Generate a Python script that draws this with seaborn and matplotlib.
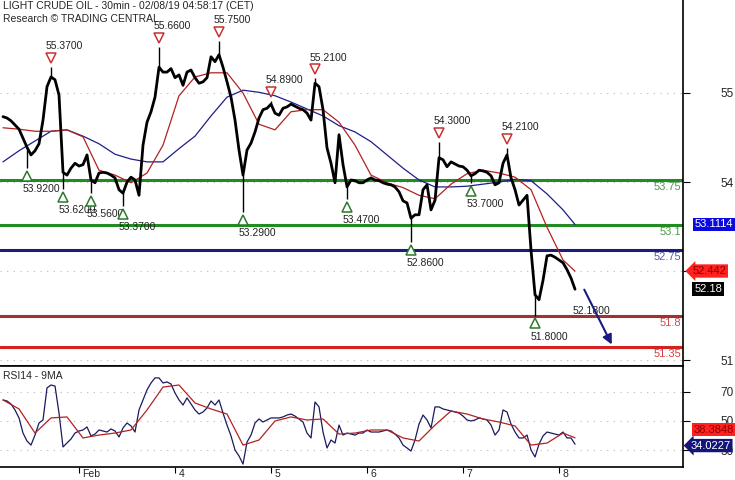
import numpy as np
import pandas as pd
import matplotlib
matplotlib.use("Agg")
import matplotlib.pyplot as plt
from matplotlib.transforms import offset_copy
import seaborn as sns

# 30min closes, read every 2 bars
close = [54.66, 54.64, 54.60, 54.54, 54.48, 54.35, 54.22, 54.11, 54.17, 54.27,
         54.61, 55.09, 55.23, 55.19, 54.97, 53.86, 53.82, 53.92, 53.99, 53.95,
         53.97, 54.11, 53.75, 53.71, 53.85, 53.86, 53.85, 53.82, 53.78, 53.61,
         53.56, 53.72, 53.79, 53.75, 53.53, 54.25, 54.58, 54.73, 54.94, 55.37,
         55.30, 55.30, 55.35, 55.22, 55.26, 55.11, 55.30, 55.33, 55.22, 55.14,
         55.16, 55.22, 55.52, 55.45, 55.55, 55.37, 55.16, 54.94, 54.61, 54.18,
         53.82, 54.18, 54.28, 54.44, 54.64, 54.76, 54.78, 54.84, 54.71, 54.68,
         54.78, 54.80, 54.84, 54.81, 54.78, 54.76, 54.71, 54.61, 55.14, 55.09,
         54.76, 54.21, 53.99, 53.71, 54.40, 53.97, 53.65, 53.75, 53.74, 53.71,
         53.71, 53.75, 53.78, 53.75, 53.74, 53.71, 53.69, 53.68, 53.65, 53.58,
         53.45, 53.42, 53.20, 53.25, 53.25, 53.61, 53.68, 53.32, 53.46, 54.07,
         54.04, 53.94, 54.01, 53.98, 53.95, 53.94, 53.89, 53.81, 53.84, 53.89,
         53.88, 53.86, 53.81, 53.68, 53.71, 53.99, 54.11, 53.78, 53.61, 53.39,
         53.46, 53.53, 52.74, 52.10, 52.03, 52.31, 52.66, 52.67, 52.64, 52.60,
         52.56, 52.46, 52.34, 52.18]

rsi = [64.5, 63.8, 61.7, 57.6, 52.1, 41.7, 36.2, 33.4, 40.3, 48.6,
       50.7, 72.8, 74.8, 74.1, 55.5, 32.1, 34.8, 37.6, 41.7, 43.1,
       43.8, 45.9, 39.7, 41.0, 43.8, 43.1, 42.4, 44.5, 43.1, 39.0,
       45.2, 48.6, 46.6, 42.4, 57.6, 64.5, 71.4, 76.2, 79.7, 79.7,
       76.2, 76.9, 75.5, 69.3, 64.5, 61.0, 65.9, 61.7, 57.6, 54.8,
       56.2, 59.0, 63.8, 61.0, 64.5, 55.5, 47.2, 39.7, 30.0, 25.9,
       20.3, 35.5, 40.3, 48.6, 51.4, 49.3, 50.7, 52.1, 52.1, 52.1,
       52.8, 54.1, 54.8, 53.4, 51.4, 49.3, 41.7, 38.3, 63.1, 59.7,
       42.4, 31.4, 36.9, 34.8, 47.2, 40.3, 41.7, 41.0, 40.3, 41.7,
       41.7, 43.8, 42.4, 42.4, 42.4, 43.1, 43.8, 43.1, 41.0, 38.3,
       33.4, 31.4, 29.3, 36.9, 47.9, 54.1, 50.7, 45.2, 59.7, 59.7,
       58.3, 57.6, 56.9, 56.2, 55.5, 53.4, 50.7, 50.0, 50.7, 52.1,
       51.4, 50.7, 47.2, 40.3, 43.8, 57.6, 56.2, 47.9, 42.4, 38.3,
       38.3, 40.3, 30.0, 25.2, 34.1, 39.7, 42.4, 41.7, 41.0, 40.3,
       42.4, 38.3, 38.3, 34.0]

# moving averages, read every 8 bars (last one at the final bar)
ma_fast = [54.50, 54.48, 54.45, 54.45, 54.47, 54.37, 53.89, 53.82, 53.71, 53.85,
           54.25, 54.96, 55.23, 55.29, 55.29, 55.00, 54.55, 54.47, 54.73, 54.76,
           54.76, 54.58, 54.25, 53.82, 53.71, 53.64, 53.53, 53.48, 53.69, 53.84,
           53.89, 53.85, 53.79, 53.61, 53.07, 52.60, 52.44]
ma_slow = [54.01, 54.17, 54.31, 54.45, 54.47, 54.38, 54.27, 54.12, 54.05, 54.01,
           54.01, 54.20, 54.38, 54.67, 54.94, 55.04, 55.01, 54.96, 54.87, 54.77,
           54.67, 54.53, 54.44, 54.30, 54.11, 53.92, 53.75, 53.65, 53.65, 53.66,
           53.69, 53.72, 53.76, 53.74, 53.55, 53.32, 53.11]
rsi_ma = [64.5, 58.3, 41.7, 52.1, 52.8, 38.3, 40.3, 41.7, 43.8, 57.6,
          73.4, 74.8, 62.4, 58.3, 54.8, 33.4, 36.9, 50.0, 52.8, 50.7,
          51.4, 41.0, 41.7, 43.8, 43.8, 38.3, 36.2, 47.2, 56.9, 54.8,
          51.4, 49.3, 46.6, 33.4, 34.8, 41.7, 38.4]

pivot_high_bar = [24, 78, 108, 134, 156, 218, 252]
pivot_high = [55.37, 55.66, 55.75, 54.89, 55.21, 54.30, 54.21]
pivot_low_bar = [12, 30, 44, 60, 120, 172, 204, 234, 266]
pivot_low = [53.92, 53.62, 53.56, 53.37, 53.29, 53.47, 52.86, 53.70, 51.80]

levels = [53.75, 53.1, 52.75, 51.8, 51.35]
level_labels = ["53.75", "53.1", "52.75", "51.8", "51.35"]
level_colors = ["#228b22", "#228b22", "#1c1c7a", "#a03232", "#d42222"]
level_text_colors = ["#4f9a4f", "#4f9a4f", "#5a5aa8", "#c85050", "#d04040"]

target_label = 52.18
arrow_start = (290, 52.21)
arrow_end = (305, 51.35)

day_ticks = [38, 86, 134, 182, 230, 278]
day_labels = ["Feb", "4", "5", "6", "7", "8"]
price_ticks = [55.0, 53.72, 52.44, 51.16]
price_tick_labels = ["55", "54", "", "51"]
rsi_ticks = [70, 50, 30]

bars = np.arange(len(close)) * 2
ma_bars = list(range(0, 281, 8)) + [286]
df = pd.DataFrame({"bar": bars, "close": close, "rsi": rsi})
df_ma = pd.DataFrame({"bar": ma_bars, "fast": ma_fast, "slow": ma_slow, "rsi_ma": rsi_ma})

sns.set_style("white")
plt.rcParams["font.family"] = ["Liberation Sans", "DejaVu Sans"]

fig = plt.figure(figsize=(7.35, 4.8), dpi=100)
ax = fig.add_axes([0, 0.2375, 0.9293, 0.7625])
ax_rsi = fig.add_axes([0, 0.0271, 0.9293, 0.2104])

grid_kw = dict(color="#b8b8b8", lw=0.8, linestyle=(0, (1, 5)), zorder=0)
for t in price_ticks:
    ax.axhline(t, **grid_kw)
for t in rsi_ticks:
    ax_rsi.axhline(t, **grid_kw)

# support / resistance levels
for lv, lab, c, tc in zip(levels, level_labels, level_colors, level_text_colors):
    ax.axhline(lv, color=c, lw=2.2, zorder=1)
    ax.annotate(lab, xy=(1, lv), xycoords=("axes fraction", "data"),
                xytext=(-1, -5), textcoords="offset points",
                ha="right", va="center", fontsize=8, color=tc)

# price + averages
sns.lineplot(data=df_ma, x="bar", y="slow", ax=ax, color="#1e1e8c", lw=0.9, zorder=2)
sns.lineplot(data=df_ma, x="bar", y="fast", ax=ax, color="#b22222", lw=0.9, zorder=2)
sns.lineplot(data=df, x="bar", y="close", ax=ax, color="black", lw=2.0, zorder=3)

close_at = dict(zip(bars, close))
ax.vlines(pivot_high_bar, [close_at[b] for b in pivot_high_bar], pivot_high, color="black", lw=1.0, zorder=3)
ax.vlines(pivot_low_bar, [close_at[b] for b in pivot_low_bar], pivot_low, color="black", lw=1.0, zorder=3)

up = offset_copy(ax.transData, fig=fig, y=6.5, units="points")
down = offset_copy(ax.transData, fig=fig, y=-5.5, units="points")
ax.plot(pivot_high_bar, pivot_high, "v", ms=6.5, mfc="white", mec="#c83030", mew=1.1, transform=up, zorder=4)
ax.plot(pivot_low_bar, pivot_low, "^", ms=6.5, mfc="white", mec="#2a7a2a", mew=1.1, transform=down, zorder=4)
for b, v in zip(pivot_high_bar, pivot_high):
    ax.annotate(f"{v:.4f}", xy=(b, v), xytext=(-4, 15), textcoords="offset points",
                ha="left", va="center", fontsize=7.5, color="#222222")
for b, v in zip(pivot_low_bar, pivot_low):
    ax.annotate(f"{v:.4f}", xy=(b, v), xytext=(-3, -15), textcoords="offset points",
                ha="left", va="center", fontsize=7.5, color="#222222")
ax.annotate(f"{target_label:.4f}", xy=(bars[-1], target_label), xytext=(-2, -16),
            textcoords="offset points", ha="left", va="center", fontsize=7.5, color="#222222")

ax.annotate("", xy=arrow_end, xytext=arrow_start,
            arrowprops=dict(arrowstyle="-|>", color="#1a1a80", lw=1.5, mutation_scale=14))

ax.set_xlim(-1.5, 340)
ax.set_ylim(51.077, 56.336)
ax.set_xticks([])
ax.set_xlabel("")
ax.set_ylabel("")
ax.yaxis.tick_right()
ax.set_yticks(price_ticks)
ax.set_yticklabels(price_tick_labels)
ax.tick_params(axis="y", direction="out", length=5, pad=22, labelsize=8.5, right=True, color="black")
for s in ["left", "top"]:
    ax.spines[s].set_visible(False)
for s in ["right", "bottom"]:
    ax.spines[s].set_color("black")
    ax.spines[s].set_linewidth(1.2)

# price tags
tag = dict(xycoords=("axes fraction", "data"), textcoords="offset points",
           ha="center", va="center", fontsize=8, annotation_clip=False)
ax.annotate("53.1114", xy=(1, 53.1114), xytext=(22, 0), color="white",
            bbox=dict(boxstyle="square,pad=0.15", fc="#0a0ae0", ec="none"), **tag)
ax.annotate("52.442", xy=(1, 52.442), xytext=(19, 0), color="#8b0000",
            bbox=dict(boxstyle="larrow,pad=0.15", fc="#ff2020", ec="none"), **tag)
ax.annotate("52.18", xy=(1, 52.18), xytext=(18, 0), color="white",
            bbox=dict(boxstyle="square,pad=0.2", fc="black", ec="none"), **tag)

# RSI panel
sns.lineplot(data=df, x="bar", y="rsi", ax=ax_rsi, color="#1a1a5e", lw=0.9)
sns.lineplot(data=df_ma, x="bar", y="rsi_ma", ax=ax_rsi, color="#b22222", lw=0.9)
ax_rsi.set_xlim(-1.5, 340)
ax_rsi.set_ylim(18.3, 87.9)
ax_rsi.set_xlabel("")
ax_rsi.set_ylabel("")
ax_rsi.yaxis.tick_right()
ax_rsi.set_yticks(rsi_ticks)
ax_rsi.set_yticklabels([str(t) for t in rsi_ticks])
ax_rsi.tick_params(axis="y", direction="out", length=5, pad=22, labelsize=8.5, right=True, color="black")
ax_rsi.set_xticks(day_ticks)
ax_rsi.set_xticklabels([])
ax_rsi.tick_params(axis="x", direction="out", length=4, bottom=True, color="black")
for d, lab in zip(day_ticks, day_labels):
    ax_rsi.annotate(lab, xy=(d, 0), xycoords=("data", "axes fraction"), xytext=(2.5, -1.5),
                    textcoords="offset points", ha="left", va="top", fontsize=7.5,
                    annotation_clip=False)
ax_rsi.spines["left"].set_visible(False)
for s in ["right", "bottom", "top"]:
    ax_rsi.spines[s].set_color("black")
    ax_rsi.spines[s].set_linewidth(1.2)
ax_rsi.text(0.004, 0.95, "RSI14 - 9MA", transform=ax_rsi.transAxes, ha="left", va="top", fontsize=7.5)

rtag = dict(xycoords=("axes fraction", "data"), textcoords="offset points",
            ha="center", va="center", fontsize=8, annotation_clip=False)
ax_rsi.annotate("38.3848", xy=(1, 38.3848), xytext=(22, 6), color="#8b0000",
                bbox=dict(boxstyle="square,pad=0.15", fc="#ff2020", ec="none"), **rtag)
ax_rsi.annotate("34.0227", xy=(1, 34.0227), xytext=(20, -1), color="white",
                bbox=dict(boxstyle="larrow,pad=0.15", fc="#14147a", ec="none"), **rtag)

fig.text(0.004, 0.998, "LIGHT CRUDE OIL - 30min - 02/08/19 04:58:17 (CET)", ha="left", va="top", fontsize=7.5)
fig.text(0.004, 0.970, "Research \u00a9 TRADING CENTRAL", ha="left", va="top", fontsize=7.5)

fig.savefig("out.png", dpi=100)
